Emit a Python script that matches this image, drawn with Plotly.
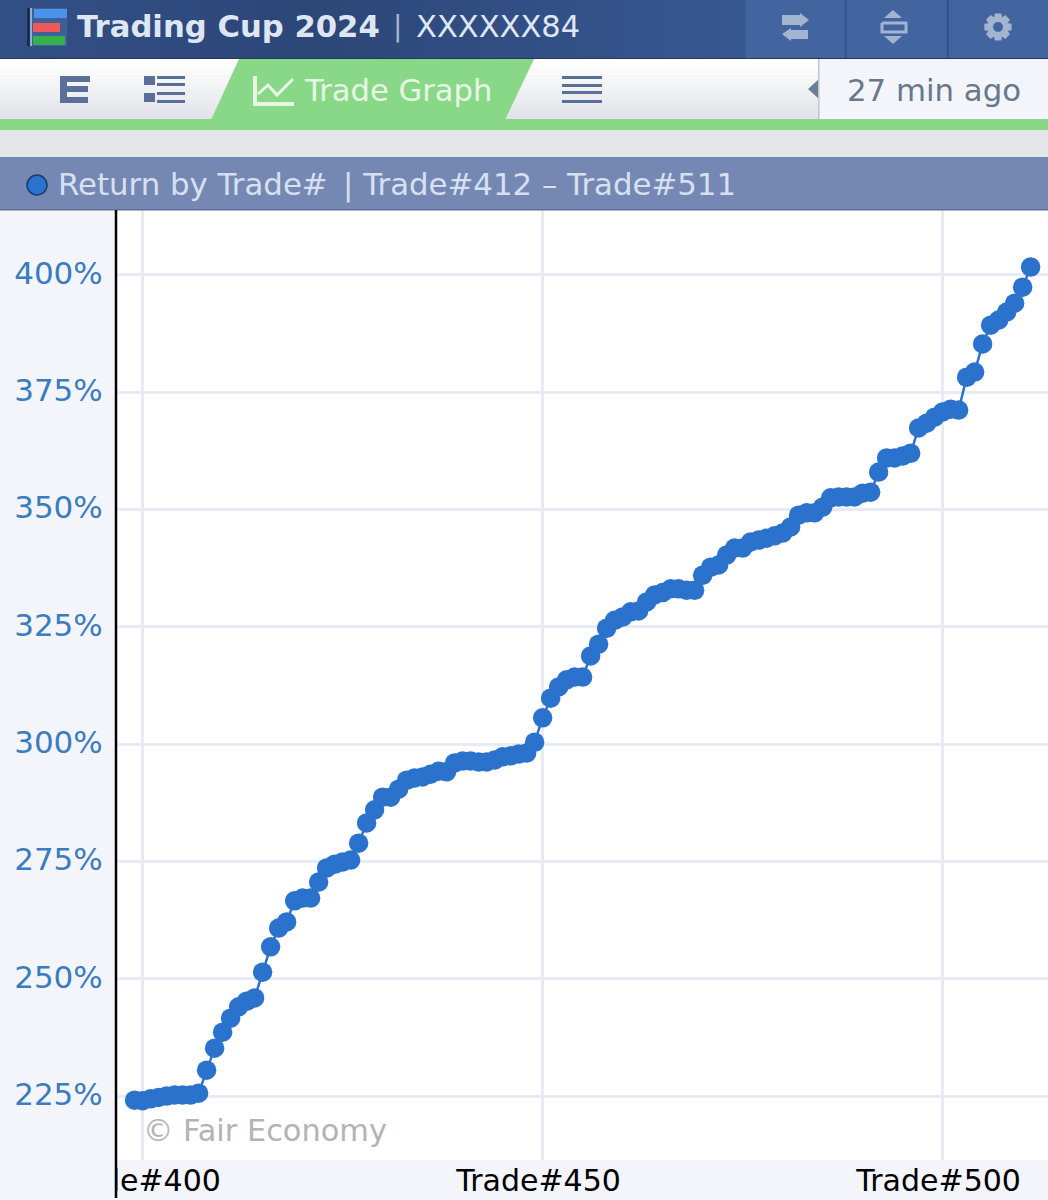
import math

import plotly.graph_objects as go

trades = [
    399, 400, 401, 402, 403, 404, 405, 406, 407, 408, 409, 410, 411, 412, 413, 414,
    415, 416, 417, 418, 419, 420, 421, 422, 423, 424, 425, 426, 427, 428, 429, 430,
    431, 432, 433, 434, 435, 436, 437, 438, 439, 440, 441, 442, 443, 444, 445, 446,
    447, 448, 449, 450, 451, 452, 453, 454, 455, 456, 457, 458, 459, 460, 461, 462,
    463, 464, 465, 466, 467, 468, 469, 470, 471, 472, 473, 474, 475, 476, 477, 478,
    479, 480, 481, 482, 483, 484, 485, 486, 487, 488, 489, 490, 491, 492, 493, 494,
    495, 496, 497, 498, 499, 500, 501, 502, 503, 504, 505, 506, 507, 508, 509, 510, 511,
]
returns = [
    224.1, 224.0, 224.4, 224.7, 225.0, 225.2, 225.2, 225.2, 225.6, 230.5, 235.2, 238.6, 241.6, 244.0, 245.2, 245.9,
    251.4, 256.8, 260.8, 262.1, 266.6, 267.2, 267.2, 270.6, 273.6, 274.4, 274.9, 275.3, 278.9, 283.2, 286.0, 288.7,
    288.7, 290.4, 292.3, 292.8, 293.0, 293.6, 294.2, 294.1, 296.0, 296.4, 296.4, 296.2, 296.2, 296.6, 297.3, 297.5,
    297.9, 298.1, 300.4, 305.6, 309.8, 312.2, 313.7, 314.3, 314.3, 318.8, 321.3, 324.7, 326.4, 327.1, 328.2, 328.4,
    330.3, 331.8, 332.3, 333.1, 333.1, 332.8, 332.8, 336.0, 337.7, 338.2, 340.3, 341.8, 341.8, 343.1, 343.5, 343.9,
    344.4, 345.0, 346.3, 348.8, 349.3, 349.3, 350.5, 352.5, 352.7, 352.7, 352.7, 353.5, 353.7, 358.0, 361.0, 361.0,
    361.4, 362.0, 367.4, 368.4, 369.7, 370.8, 371.4, 371.2, 378.2, 379.3, 385.3, 389.3, 390.4, 392.1, 394.0, 397.4, 401.7,
]
y_ticks = [225, 250, 275, 300, 325, 350, 375, 400]
y_tick_labels = ["225%", "250%", "275%", "300%", "325%", "350%", "375%", "400%"]
x_ticks = [400, 450, 500]
x_tick_labels = ["Trade#400", "Trade#450", "Trade#500"]

WIDTH = 1048
HEIGHT = 1200
LEFT = 117
TOP = 210
BOTTOM = 40
FONT = "DejaVu Sans"
BLUE = "#2a72cc"
STRIP = "#f3f5fa"


# page pixels to paper coordinates, all the app chrome is placed with these
def px_x(x):
    return (x - LEFT) / (WIDTH - LEFT)


def px_y(y):
    return 1 - (y - TOP) / (HEIGHT - TOP - BOTTOM)


def rect(x0, y0, x1, y1, color):
    return dict(type="rect", xref="paper", yref="paper", layer="above",
                x0=px_x(x0), y0=px_y(y0), x1=px_x(x1), y1=px_y(y1),
                fillcolor=color, line_width=0)


def poly(points, color):
    path = "M " + " L ".join(f"{px_x(x)},{px_y(y)}" for x, y in points) + " Z"
    return dict(type="path", xref="paper", yref="paper", layer="above",
                path=path, fillcolor=color, line_width=0)


def polyline(points, color, width):
    path = "M " + " L ".join(f"{px_x(x)},{px_y(y)}" for x, y in points)
    return dict(type="path", xref="paper", yref="paper", layer="above",
                path=path, line=dict(color=color, width=width))


def circle(cx, cy, r, color):
    return dict(type="circle", xref="paper", yref="paper", layer="above",
                x0=px_x(cx - r), y0=px_y(cy - r), x1=px_x(cx + r), y1=px_y(cy + r),
                fillcolor=color, line_width=0)


def gear(cx, cy, color):
    points = []
    for i in range(8):
        a = i * math.pi / 4
        for r, da in [(10, -0.42), (14, -0.24), (14, 0.24), (10, 0.42)]:
            points.append((cx + r * math.cos(a + da), cy + r * math.sin(a + da)))
    return poly(points, color)


def label(x, y, text, size, color, weight="normal"):
    return dict(xref="paper", yref="paper", x=px_x(x), y=px_y(y), text=text,
                xanchor="left", yanchor="middle", showarrow=False,
                font=dict(family=FONT, size=size, color=color, weight=weight))


def mix(a, b, t):
    return "#" + "".join(f"{round(a[i] + (b[i] - a[i]) * t):02x}" for i in range(3))


shapes = []

# top bar
top_stops = [(0, (50, 79, 134)), (300, (45, 70, 120)), (746, (56, 88, 146))]
for x in range(0, 746, 20):
    (x0, c0), (x1, c1) = (top_stops[0], top_stops[1]) if x < 300 else (top_stops[1], top_stops[2])
    shapes.append(rect(x, 0, x + 21, 58, mix(c0, c1, (x - x0) / (x1 - x0))))
shapes.append(rect(746, 0, WIDTH, 58, "#42649f"))
shapes.append(rect(845, 0, 846.5, 58, "#2f4c80"))
shapes.append(rect(947, 0, 948.5, 58, "#2f4c80"))
shapes.append(rect(0, 58, WIDTH, 59.5, "#24365c"))

# logo
shapes.append(rect(27, 8, 30, 46, "#1c2c4c"))
shapes.append(rect(30, 8, 32, 46, "#8fb4dc"))
shapes.append(rect(32, 8, 67, 46, "#3f5f98"))
shapes.append(rect(34, 9, 67, 18, "#4a93ea"))
shapes.append(rect(33, 23, 60, 32, "#ee5a5a"))
shapes.append(rect(33, 36, 65, 45, "#36b04c"))

# toolbar icons on the right of the top bar
ICON = "#a3b4d0"
shapes.append(poly([(782, 15), (800, 15), (800, 13), (809, 20), (800, 27), (800, 25), (782, 25)], ICON))
shapes.append(poly([(808, 30), (791, 30), (791, 28), (782, 34), (791, 41), (791, 39), (808, 39)], ICON))
shapes.append(poly([(893, 10), (902, 18), (884, 18)], ICON))
shapes.append(poly([(893, 44), (902, 36), (884, 36)], ICON))
shapes.append(polyline([(882, 23), (906, 23), (906, 32), (882, 32), (882, 23)], ICON, 3))
shapes.append(gear(998, 27, ICON))
shapes.append(circle(998, 27, 5, "#42649f"))

# tab row, white to grey going down
for i in range(12):
    shapes.append(rect(0, 59 + i * 5, WIDTH, 65 + i * 5, mix((255, 255, 255), (226, 228, 234), i / 11)))
shapes.append(rect(0, 119, WIDTH, 130, "#89d888"))
shapes.append(poly([(211, 120), (239, 59), (534, 59), (505, 120)], "#89d888"))
shapes.append(rect(819, 59, WIDTH, 119, STRIP))
shapes.append(rect(818, 59, 819.5, 119, "#bfc4cc"))
shapes.append(poly([(818, 80), (808, 89), (818, 98)], "#6a7d93"))

ICON2 = "#5a7099"
shapes.append(rect(60, 76, 90, 82, ICON2))
shapes.append(rect(60, 76, 67, 103, ICON2))
shapes.append(rect(60, 86, 88, 92, ICON2))
shapes.append(rect(60, 97, 88, 103, ICON2))
shapes.append(rect(144, 76, 155, 85, ICON2))
shapes.append(rect(144, 93, 155, 102, ICON2))
for y in [76, 83, 92, 100]:
    shapes.append(rect(157, y, 185, y + 3, ICON2))
for y in [76, 84, 91, 100]:
    shapes.append(rect(562, y, 602, y + 3, ICON2))

# chart icon in the green tab
shapes.append(polyline([(255, 76), (255, 104), (294, 104)], "#e8f6e6", 4))
shapes.append(polyline([(258, 94), (268, 85), (277, 95), (293, 79)], "#e8f6e6", 3))

# section header
shapes.append(rect(0, 130, WIDTH, 157, "#e5e6ea"))
shapes.append(rect(0, 157, WIDTH, 209, "#7588b4"))
shapes.append(rect(0, 209, WIDTH, 210.5, "#5f7098"))
shapes.append(dict(type="circle", xref="paper", yref="paper", layer="above",
                   x0=px_x(27), y0=px_y(175), x1=px_x(47), y1=px_y(195),
                   fillcolor=BLUE, line=dict(color="#1b3a70", width=1.5)))

# the y axis line runs on through the label strip, which also cuts off the first label
shapes.append(rect(0, 1160, 116, HEIGHT, STRIP))
shapes.append(polyline([(116, 210), (116, 1198)], "#000000", 2.5))

annotations = [
    label(75, 27, "Trading Cup 2024", 30.7, "#dfe6f3", "bold"),
    label(391, 27, "|", 28, "#a9b6cf"),
    label(414, 27, "XXXXXX84", 30.5, "#dfe6f3"),
    label(302, 90, "Trade Graph", 30.6, "#e8f6e6"),
    label(845, 90, "27 min ago", 30.8, "#68788c"),
    label(56, 184, "Return by Trade#\u2002| Trade#412 – Trade#511", 30.8, "#d7e0f0"),
    label(141, 1130, "© Fair Economy", 30.4, "#b3b3b3"),
]

fig = go.Figure()
fig.add_trace(go.Scatter(
    x=trades, y=returns, mode="lines+markers",
    line=dict(color=BLUE, width=2.5),
    marker=dict(color=BLUE, size=19.5),
    hoverinfo="skip",
))

fig.update_layout(
    width=WIDTH, height=HEIGHT,
    margin=dict(l=LEFT, r=0, t=TOP, b=BOTTOM, pad=0),
    paper_bgcolor=STRIP, plot_bgcolor="white",
    showlegend=False,
    font=dict(family=FONT),
    shapes=shapes,
    annotations=annotations,
)
fig.update_xaxes(
    range=[396.8, 513.17], tickvals=x_ticks, ticktext=x_tick_labels,
    tickfont=dict(family=FONT, size=30, color="#000000"),
    showgrid=True, gridcolor="#e8ebf3", gridwidth=2.5, zeroline=False,
    ticks="", ticklabelshift=-4, automargin=False,
)
fig.update_yaxes(
    range=[211.36, 413.85], tickvals=y_ticks, ticktext=y_tick_labels,
    tickfont=dict(family=FONT, size=31, color="#3a7cc0"),
    showgrid=True, gridcolor="#e8ebf3", gridwidth=2.5, zeroline=False,
    ticks="outside", ticklen=7, tickcolor="rgba(0,0,0,0)", ticklabelshift=-2, automargin=False,
)

fig.write_html("out.html", config={"displayModeBar": False},
               post_script="document.body.style.margin='0';")
